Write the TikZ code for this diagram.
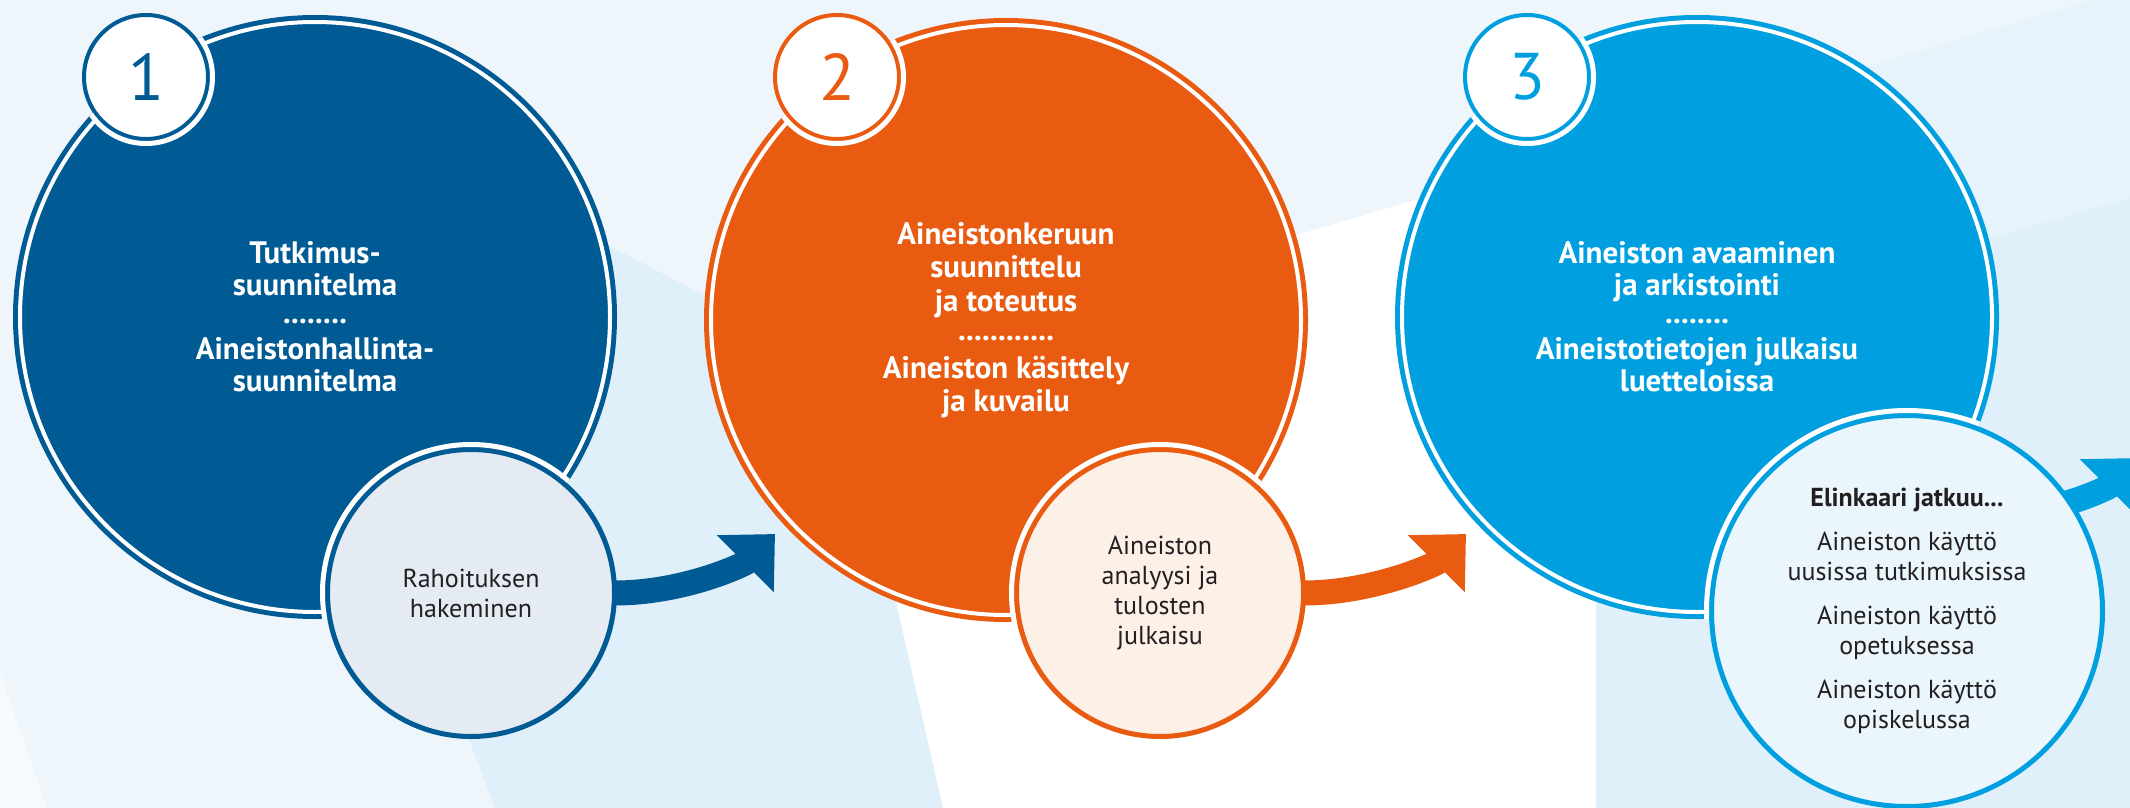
\documentclass[tikz,border=0pt]{standalone}
\usepackage{fontspec}
\setmainfont{PT Sans}
\usetikzlibrary{arrows.meta, calc, backgrounds}
\definecolor{fsdblue}{HTML}{005A94}
\definecolor{fsdorange}{HTML}{E95B10}
\definecolor{fsdcyan}{HTML}{009FE0}
\definecolor{pale1}{HTML}{E4EBF3}
\definecolor{pale2}{HTML}{FDF0E7}
\definecolor{pale3}{HTML}{EAF5FC}
\definecolor{bglight}{HTML}{EEF6FB}
\definecolor{bgmid}{HTML}{E6F3FB}
\definecolor{bgdark}{HTML}{DFF0FA}
\definecolor{bgpale}{HTML}{F6FAFD}
\definecolor{ink}{HTML}{231F20}
\newcommand\dotrow[1]{\raisebox{4pt}{#1}}

\begin{document}
\begin{tikzpicture}[x=1pt, y=-1pt, % pixel grid, y pointing down
 phase/.style = {circle, inner sep=0pt, outer sep=0pt, minimum size=590pt,
                 fill=#1, draw=#1, line width=5pt,
                 double=white, double distance=4pt,
                 text=white, align=center,
                 font=\bfseries\fontsize{31}{32}\selectfont},
number/.style = {circle, inner sep=0pt, outer sep=0pt, minimum size=124pt,
                 fill=white, draw=#1, line width=4pt, text=#1,
                 font=\fontsize{66}{66}\selectfont},
  task/.style args = {#1/#2}{circle, inner sep=0pt, outer sep=0pt,
                 fill=#2, draw=#1, line width=5pt,
                 text=ink, align=center,
                 font=\fontsize{26}{30}\selectfont},
   gap/.style = {draw=white, line width=5pt},
  flow/.style = {draw=#1, line width=25pt,
                 -{Triangle[length=42pt, width=78pt]}}
                    ]
	\useasboundingbox (0,0) rectangle (2130,808);
	% background planes
	\begin{scope}[on background layer]
	\fill[bglight] (0,0) rectangle (2130,808);
	\fill[bgpale] (0,673) -- (47,808) -- (0,808) -- cycle;
	\fill[bgdark] (560,220) -- (845,369) -- (943,808) -- (495,808) -- (420,610) -- cycle;
	\fill[white] (843,369) -- (1500,175) -- (1596,600) -- (1596,808) -- (943,808) -- cycle;
	\fill[bgmid] (1500,175) -- (2092,0) -- (2130,0) -- (2130,198) -- (1900,264) -- cycle;
	\fill[bgdark] (1596,808) -- (1596,560) -- (1900,264) -- (2130,198) -- (2130,808) -- cycle;
	\end{scope}

	% phase 1
	\node[phase=fsdblue] (p1) at (315,317)
	   {Tutkimus-\\suunnitelma\\\dotrow{........}\\Aineistonhallinta-\\suunnitelma};
	\node[number=fsdblue] (n1) at (146,77) {1};
	\node[task=fsdblue/pale1, minimum size=287pt] (t1) at (471,593)
	   {Rahoituksen\\hakeminen};
	\begin{scope}
	\clip (p1.center) circle [radius=302];
	\draw[gap] (n1.center) circle [radius=66.5];
	\draw[gap] (t1.center) circle [radius=148.5];
	\end{scope}

	% phase 2
	\node[phase=fsdorange, font=\bfseries\fontsize{31}{33.5}\selectfont] (p2) at (1006,320)
	   {Aineistonkeruun\\suunnittelu\\ja toteutus\\\dotrow{............}\\Aineiston käsittely\\ja kuvailu};
	\node[number=fsdorange] (n2) at (837,77) {2};
	\node[task=fsdorange/pale2, minimum size=287pt] (t2) at (1160,593)
	   {Aineiston\\analyysi ja\\tulosten\\julkaisu};
	\begin{scope}
	\clip (p2.center) circle [radius=302];
	\draw[gap] (n2.center) circle [radius=66.5];
	\draw[gap] (t2.center) circle [radius=148.5];
	\end{scope}

	% phase 3
	\node[phase=fsdcyan] (p3) at (1697,317)
	   {Aineiston avaaminen\\ja arkistointi\\\dotrow{........}\\Aineistotietojen julkaisu\\luetteloissa};
	\node[number=fsdcyan] (n3) at (1527,77) {3};
	\node[task=fsdcyan/pale3, minimum size=391pt] (t3) at (1907,611)
	   {\textbf{Elinkaari jatkuu...}\\[14pt]
	    Aineiston käyttö\\uusissa tutkimuksissa\\[14pt]
	    Aineiston käyttö\\opetuksessa\\[14pt]
	    Aineiston käyttö\\opiskelussa};
	\begin{scope}
	\clip (p3.center) circle [radius=302];
	\draw[gap] (n3.center) circle [radius=66.5];
	\draw[gap] (t3.center) circle [radius=200.5];
	\end{scope}

	% arrows between the phases
	\coordinate (h1) at (775,534);
	\coordinate (h2) at (1466,534);
	\coordinate (h3) at (2138,458);
	\begin{scope}[on background layer]
	\draw[flow=fsdblue] (t1.center) -- (t1.east) .. controls +(70,0) and +(-30,30) .. (h1);
	\draw[flow=fsdorange] (t2.center) -- (t2.east) .. controls +(70,0) and +(-30,30) .. (h2);
	\draw[flow=fsdcyan] (t3.center) -- ($(h3)+(-160,59)$) .. controls +(70,0) and +(-30,30) .. (h3);
	\end{scope}
\end{tikzpicture}
\end{document}
